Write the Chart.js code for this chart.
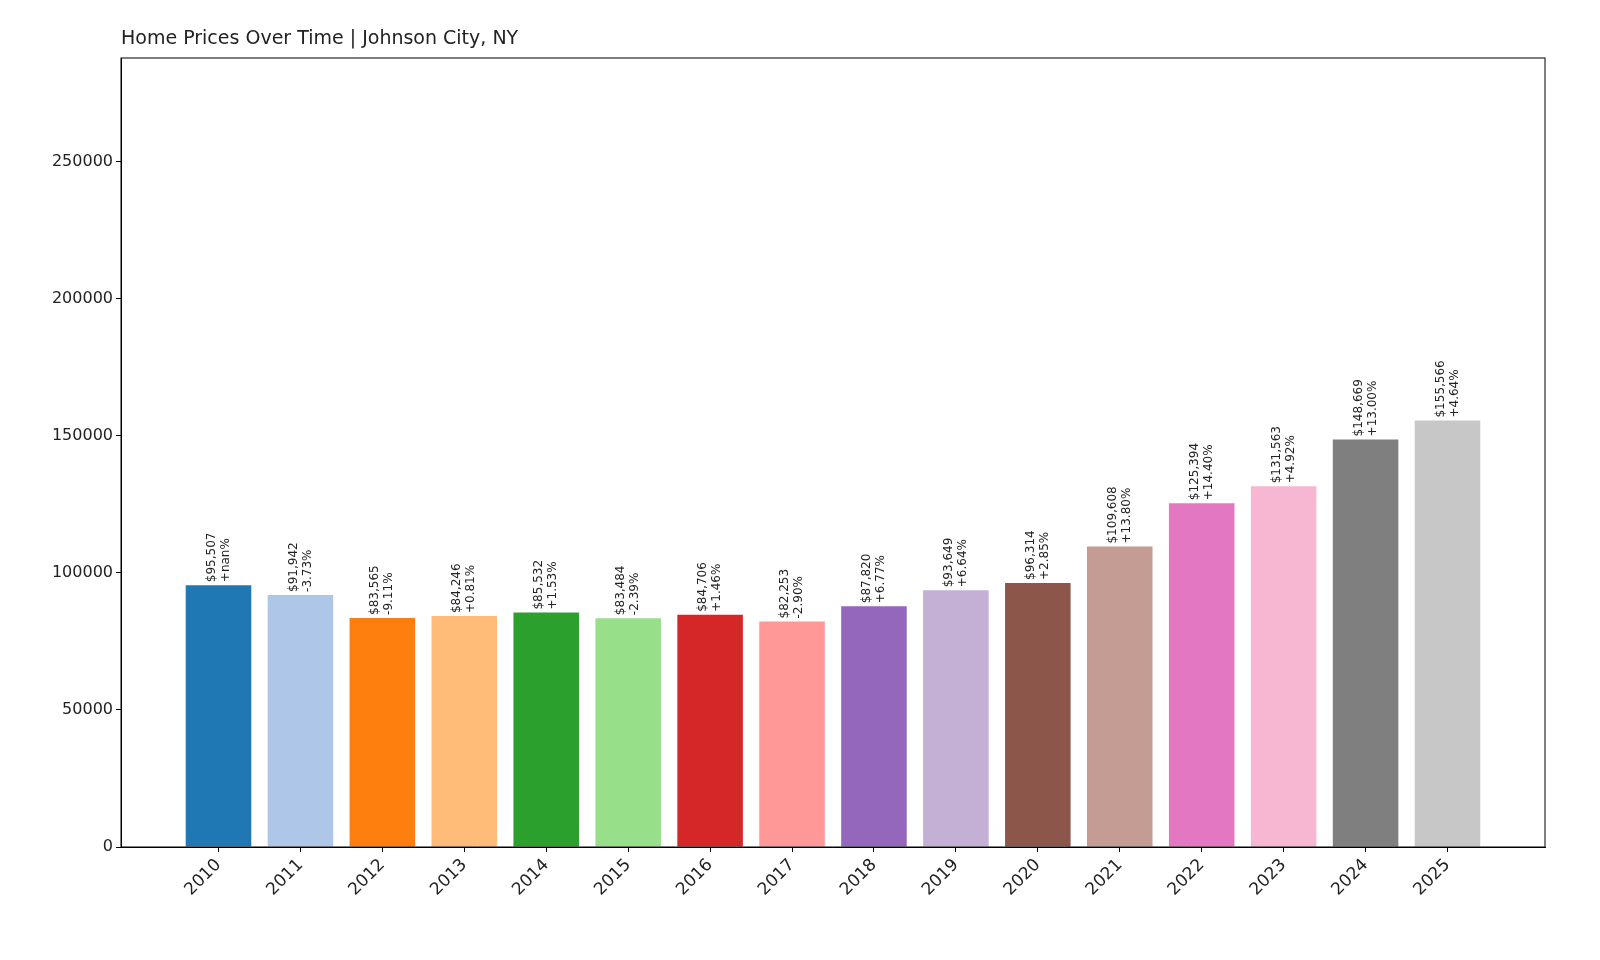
<!DOCTYPE html>
<html><head><meta charset="utf-8">
<script src="https://cdn.jsdelivr.net/npm/chart.js@4/dist/chart.umd.min.js"></script>
<style>html,body{margin:0;padding:0;background:#fff}#w{width:1600px;height:960px}</style>
</head><body><div id="w"><canvas id="c"></canvas></div>
<script>
const years=["2010","2011","2012","2013","2014","2015","2016","2017","2018","2019","2020","2021","2022","2023","2024","2025"];
const prices=[95507,91942,83565,84246,85532,83484,84706,82253,87820,93649,96314,109608,125394,131563,148669,155566];
const changes=["+nan%","-3.73%","-9.11%","+0.81%","+1.53%","-2.39%","+1.46%","-2.90%","+6.77%","+6.64%","+2.85%","+13.80%","+14.40%","+4.92%","+13.00%","+4.64%"];
const yTicks=[0,50000,100000,150000,200000,250000];
const colors=["#1f77b4","#aec7e8","#ff7f0e","#ffbb78","#2ca02c","#98df8a","#d62728","#ff9896","#9467bd","#c5b0d5","#8c564b","#c49c94","#e377c2","#f7b6d2","#7f7f7f","#c7c7c7"];
const F="'DejaVu Sans', sans-serif";
const deco={id:'deco',afterDraw(ch){
  const c=ch.ctx,a=ch.chartArea,x=ch.scales.x,y=ch.scales.y;
  c.save();c.strokeStyle='#000';c.lineWidth=1;c.strokeRect(a.left,a.top,a.right-a.left,a.bottom-a.top);
  c.fillStyle='#222';c.font='19px '+F;c.textAlign='left';c.textBaseline='alphabetic';
  c.fillText('Home Prices Over Time | Johnson City, NY',a.left,44);
  c.font='12px '+F;
  prices.forEach((p,i)=>{const px=x.getPixelForValue(i),py=y.getPixelForValue(p);
    c.save();c.translate(px,py-3);c.rotate(-Math.PI/2);c.textAlign='left';c.textBaseline='middle';
    c.fillText('$'+p.toLocaleString('en-US'),0,-7);c.fillText(changes[i],0,7);c.restore();});
  c.restore();}};
new Chart(document.getElementById('c'),{type:'bar',
 data:{datasets:[{data:prices.map((v,i)=>({x:i,y:v})),backgroundColor:colors,categoryPercentage:1,barPercentage:0.8}]},
 options:{responsive:true,maintainAspectRatio:false,animation:false,
  layout:{padding:{left:0,right:55,top:58,bottom:0}},
  plugins:{legend:{display:false},tooltip:{enabled:false}},
  scales:{
   x:{type:'linear',min:-1.19,max:16.19,offset:false,afterBuildTicks(s){s.ticks=years.map((_,i)=>({value:i}));},
      afterFit(s){s.height=113;},
      grid:{offset:false,drawOnChartArea:false,tickLength:5,color:'#000'},border:{color:'#000'},
      ticks:{autoSkip:false,maxRotation:45,minRotation:45,color:'#222',font:{family:F,size:17},callback:(v)=>years[v]}},
   y:{min:0,max:287800,afterBuildTicks(s){s.ticks=yTicks.map(v=>({value:v}));},
      afterFit(s){s.width=121;},
      grid:{drawOnChartArea:false,tickLength:5,color:'#000'},border:{color:'#000'},
      ticks:{color:'#222',font:{family:F,size:16},callback:v=>String(v)}}}},
 plugins:[deco]});
</script></body></html>
